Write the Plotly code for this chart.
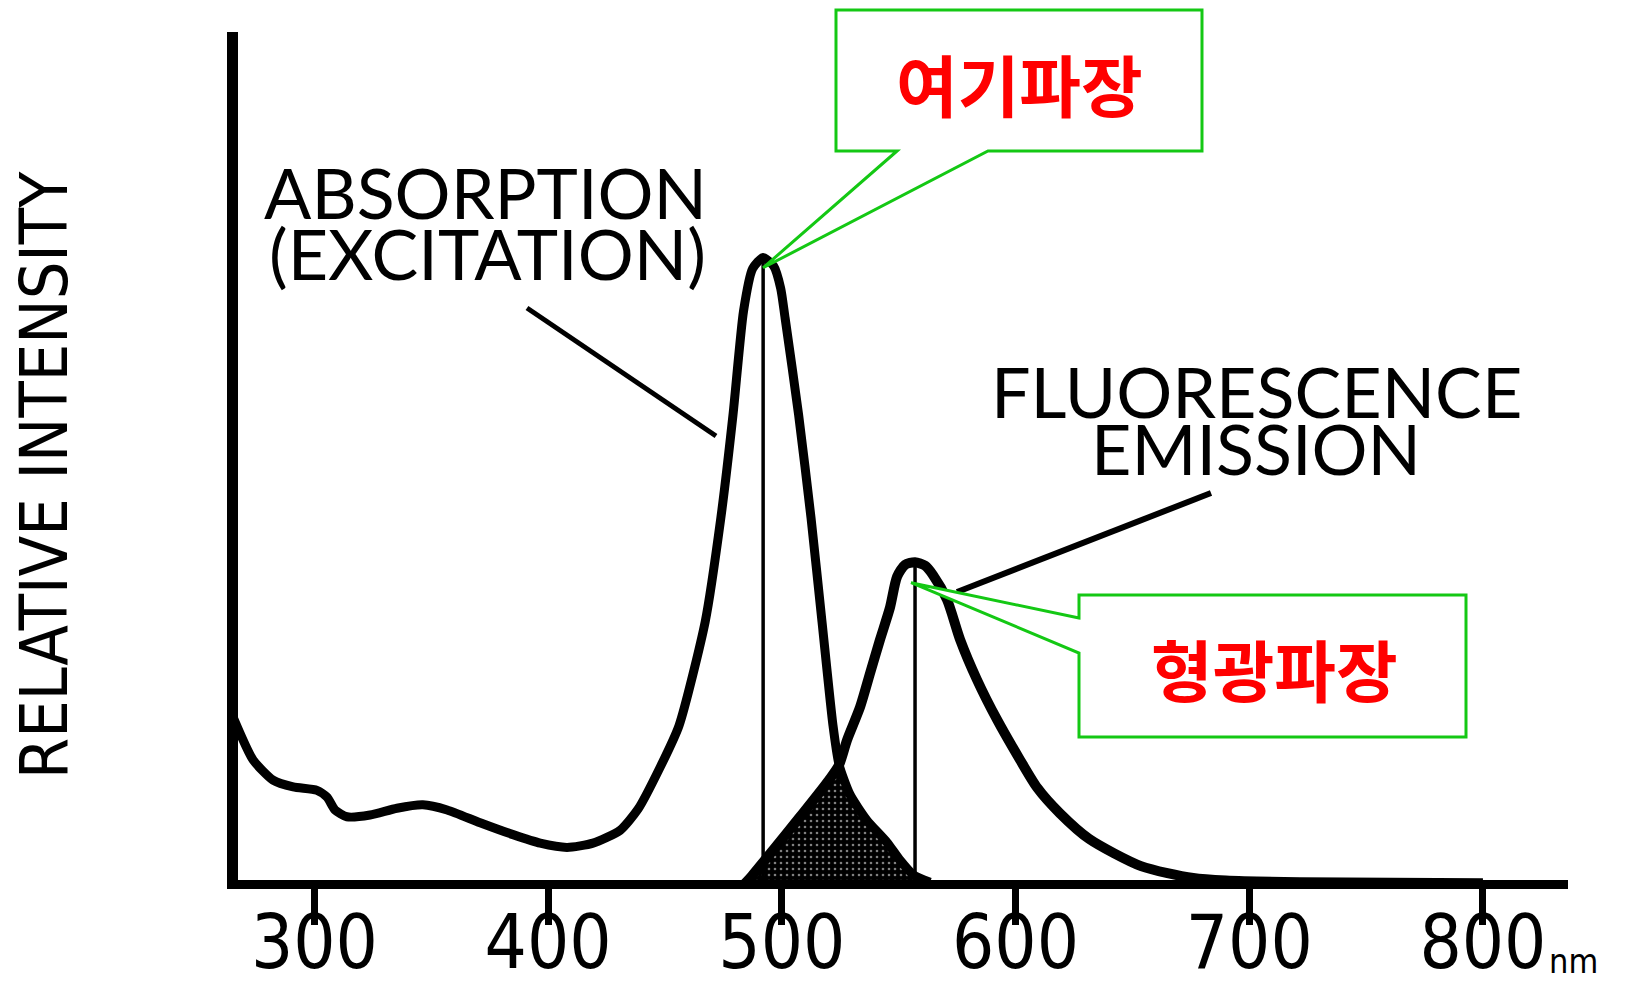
import plotly.graph_objects as go

# ---------------- data ----------------
abs_nm = [265.2, 273.7, 282.3, 290.9, 301.1, 305.4, 308.8, 313.9, 323.8, 335.3, 346.4,
          356.8, 370.9, 385.0, 396.6, 408.1, 419.2, 430.8, 438.5, 447.9, 456.0, 467.2,
          473.9, 479.1, 483.6, 487.5, 492.0, 496.5, 499.5, 501.4, 507.2, 512.5, 517.2,
          521.9, 524.5, 529.2, 536.4, 545.0, 550.6, 556.2, 563.4]
abs_y = [19.6, 14.6, 12.2, 11.4, 11.0, 10.2, 8.7, 7.9, 8.1, 8.9, 9.3,
         8.7, 7.2, 5.8, 4.8, 4.3, 4.8, 6.3, 8.8, 13.7, 18.6, 30.8,
         43.0, 55.1, 67.3, 72.3, 73.6, 72.6, 70.0, 66.5, 55.1, 43.0, 30.8,
         18.6, 14.0, 10.5, 7.5, 4.9, 2.8, 1.1, 0.2]

fl_nm = [484.0, 486.4, 496.3, 507.8, 519.3, 524.5, 527.9, 533.5, 537.8, 542.0, 546.3,
         549.3, 552.7, 557.0, 561.3, 564.7, 570.7, 576.3, 583.5, 592.1, 601.9, 609.3,
         619.0, 631.5, 653.7, 676.0, 690.0, 721.7, 800.0]
fl_y = [0.0, 0.7, 4.0, 7.9, 11.9, 14.0, 16.9, 20.8, 24.8, 28.7, 32.5,
        36.1, 37.5, 37.8, 37.4, 36.3, 33.4, 28.7, 24.0, 19.3, 14.6, 11.3,
        8.3, 5.3, 2.1, 0.7, 0.4, 0.2, 0.1]

tick_vals = [300, 400, 500, 600, 700, 800]
tick_text = ["300", "400", "500", "600", "700", "800"]

y_title = "RELATIVE INTENSITY"
abs_label = ["ABSORPTION", "(EXCITATION)"]
fl_label = ["FLUORESCENCE", "EMISSION"]
exc_callout = "여기파장"
em_callout = "형광파장"
unit_label = "nm"

# ---------------- layout geometry ----------------
W, H = 1626, 985
L, R, T, B = 238, 1568, 32, 880          # plot area in pixels
XR = [267.3, 836.4]
YR = [0.47, 100.1]

def px_x(p):
    return (p - L) / (R - L)

def px_y(p):
    return (B - p) / (B - T)

def dx(v):
    return (v - XR[0]) / (XR[1] - XR[0])

def dy(v):
    return (v - YR[0]) / (YR[1] - YR[0])

cross_nm = 524.5
abs_pk = abs_y.index(max(abs_y))
fl_pk = fl_y.index(max(fl_y))

# overlap (shaded) polygon built from the two series
ov_x = [n for n in fl_nm if n <= cross_nm] + [n for n in abs_nm if n > cross_nm]
ov_y = [fl_y[i] for i, n in enumerate(fl_nm) if n <= cross_nm] + \
       [abs_y[i] for i, n in enumerate(abs_nm) if n > cross_nm]
ov_x = ov_x + [ov_x[-1], ov_x[0]]
ov_y = ov_y + [0.0, 0.0]

fig = go.Figure()

fig.add_trace(go.Scatter(
    x=ov_x, y=ov_y, mode="lines", fill="toself",
    line=dict(color="black", width=2, shape="spline", smoothing=0.5),
    fillcolor="black",
    fillpattern=dict(shape=".", bgcolor="black", fgcolor="white",
                     size=6, solidity=0.15),
    hoverinfo="skip", showlegend=False))

fig.add_trace(go.Scatter(
    x=[abs_nm[abs_pk], abs_nm[abs_pk]], y=[0, abs_y[abs_pk]], mode="lines",
    line=dict(color="black", width=3.5), hoverinfo="skip", showlegend=False))
fig.add_trace(go.Scatter(
    x=[fl_nm[fl_pk], fl_nm[fl_pk]], y=[0, fl_y[fl_pk]], mode="lines",
    line=dict(color="black", width=3.5), hoverinfo="skip", showlegend=False))

fig.add_trace(go.Scatter(
    x=abs_nm, y=abs_y, mode="lines",
    line=dict(color="black", width=9, shape="spline", smoothing=0.6),
    hoverinfo="skip", showlegend=False))
fig.add_trace(go.Scatter(
    x=fl_nm, y=fl_y, mode="lines",
    line=dict(color="black", width=10, shape="spline", smoothing=0.7),
    hoverinfo="skip", showlegend=False))

GREEN = "#14c814"

tip1 = (dx(abs_nm[abs_pk]), dy(abs_y[abs_pk] - 1.2))
tip2 = (dx(fl_nm[fl_pk] - 1.7), dy(fl_y[fl_pk] - 2.4))

def path(points):
    s = "M {:.5f},{:.5f}".format(*points[0])
    for p in points[1:]:
        s += " L {:.5f},{:.5f}".format(*p)
    return s + " Z"

box1 = [(px_x(897), px_y(151)), tip1, (px_x(988), px_y(151)),
        (px_x(1202), px_y(151)), (px_x(1202), px_y(10)),
        (px_x(836), px_y(10)), (px_x(836), px_y(151))]
box2 = [(px_x(1079), px_y(618)), tip2, (px_x(1079), px_y(653)),
        (px_x(1079), px_y(737)), (px_x(1466), px_y(737)),
        (px_x(1466), px_y(595)), (px_x(1079), px_y(595))]

shapes = [
    dict(type="line", xref="paper", yref="paper",
         x0=px_x(527), y0=px_y(308), x1=px_x(716), y1=px_y(436),
         line=dict(color="black", width=5)),
    dict(type="line", xref="paper", yref="paper",
         x0=px_x(1211), y0=px_y(493), x1=px_x(957), y1=px_y(592),
         line=dict(color="black", width=6)),
    dict(type="path", xref="paper", yref="paper", path=path(box1),
         fillcolor="white", line=dict(color=GREEN, width=3)),
    dict(type="path", xref="paper", yref="paper", path=path(box2),
         fillcolor="white", line=dict(color=GREEN, width=3)),
]

LBL_FONT = dict(family="Lato, DejaVu Sans, sans-serif", size=70, color="black")
NARROW = "Liberation Sans Narrow, DejaVu Sans Condensed, sans-serif"
KR_FONT = dict(family="Noto Sans CJK KR, sans-serif", size=67, color="#ff0000",
               weight=700)

def ann(text, x, y, font, **kw):
    d = dict(text=text, xref="paper", yref="paper", x=px_x(x), y=px_y(y),
             xanchor="center", yanchor="middle", showarrow=False, font=font)
    d.update(kw)
    return d

annotations = [
    ann(abs_label[0], 485, 192, LBL_FONT),
    ann(abs_label[1], 487, 253, LBL_FONT),
    ann(fl_label[0], 1256, 391, LBL_FONT),
    ann(fl_label[1], 1256, 448, LBL_FONT),
    ann(y_title, 44, 475, dict(family=NARROW, size=66, color="black"), textangle=-90),
    ann(exc_callout, 1020, 82, KR_FONT),
    ann(em_callout, 1274, 667, KR_FONT),
    ann(unit_label, 1573, 961, dict(family=NARROW, size=34, color="black")),
]

fig.update_layout(
    width=W, height=H,
    margin=dict(l=L, r=W - R, t=T, b=H - B, pad=0, autoexpand=False),
    paper_bgcolor="white", plot_bgcolor="white",
    showlegend=False,
    shapes=shapes,
    annotations=annotations,
    xaxis=dict(range=XR, showgrid=False, zeroline=False, automargin=False,
               showline=True, linecolor="black", linewidth=9,
               ticks="outside", ticklen=36, tickwidth=7, tickcolor="black",
               tickvals=tick_vals, ticktext=tick_text, ticklabelstandoff=-46,
               tickfont=dict(family=NARROW, size=74, color="black")),
    yaxis=dict(range=YR, showgrid=False, zeroline=False, automargin=False,
               showline=True, linecolor="black", linewidth=11,
               ticks="", showticklabels=False),
)

fig.write_html("out.html")
